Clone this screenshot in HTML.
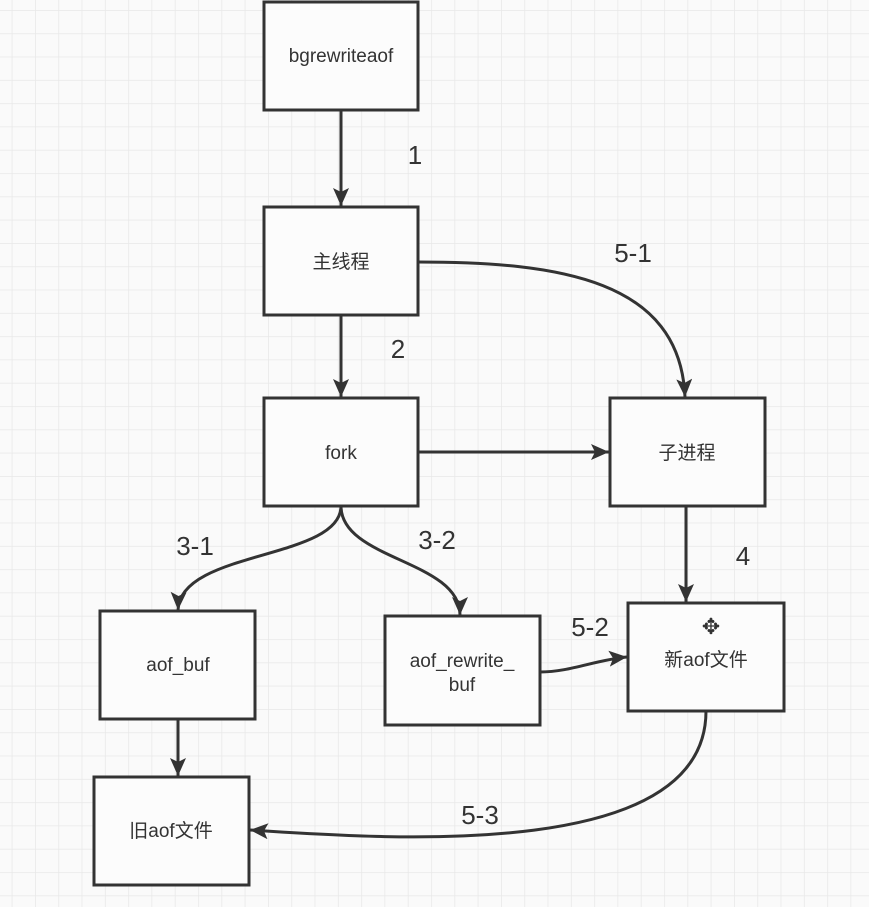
<!DOCTYPE html>
<html><head><meta charset="utf-8"><style>
html,body{margin:0;padding:0;background:#fafafa;}
svg{display:block;}
</style></head><body>
<svg width="869" height="907" xmlns="http://www.w3.org/2000/svg">
<defs>
<pattern id="g" x="11.7" y="10" width="23.3" height="23.3" patternUnits="userSpaceOnUse">
<path d="M0 0V23.3M0 0H23.3" stroke="#e8e8e8" stroke-width="1.5" fill="none"/>
</pattern>
<marker id="a" markerWidth="20" markerHeight="16" refX="18" refY="8" orient="auto" markerUnits="userSpaceOnUse" viewBox="0 0 20 16">
<path d="M0 0L18 8L0 16L4 8Z" fill="#333"/>
</marker>
</defs>
<rect width="869" height="907" fill="#fafafa"/>
<rect width="869" height="907" fill="url(#g)"/>
<g fill="#fcfcfc" stroke="#333" stroke-width="3">
<rect x="264" y="2" width="154" height="108"/>
<rect x="264" y="207" width="154" height="108"/>
<rect x="264" y="398" width="154" height="108"/>
<rect x="610" y="398" width="155" height="108"/>
<rect x="100" y="611" width="155" height="108"/>
<rect x="385" y="616" width="155" height="109"/>
<rect x="628" y="603" width="156" height="108"/>
<rect x="94" y="777" width="155" height="108"/>
</g>
<g stroke="#333" stroke-width="3" fill="none" marker-end="url(#a)">
<path d="M341 110V206"/>
<path d="M341 315V397"/>
<path d="M418 452H609"/>
<path d="M686 506V602"/>
<path d="M178 719V776"/>
<path d="M418 262C560 262 680 280 685 397"/>
<path d="M341 506C341 560 180 550 178 610"/>
<path d="M341 506C341 560 460 560 460 615"/>
<path d="M540 672C570 672 595 660 627 657"/>
<path d="M706 711C706 860 400 840 250 830"/>
</g>
<g font-family="'Liberation Sans','Noto Sans CJK SC',sans-serif" fill="#333" text-anchor="middle">
<g font-size="19">
<text x="341" y="62">bgrewriteaof</text>
<text x="341" y="268">主线程</text>
<text x="341" y="459">fork</text>
<text x="687" y="459">子进程</text>
<text x="178" y="671">aof_buf</text>
<text x="462" y="667">aof_rewrite_</text>
<text x="462" y="691">buf</text>
<text x="706" y="666">新aof文件</text>
<text x="171" y="837">旧aof文件</text>
</g>
<g font-size="26">
<text x="415" y="164">1</text>
<text x="633" y="262">5-1</text>
<text x="398" y="358">2</text>
<text x="195" y="555">3-1</text>
<text x="437" y="549">3-2</text>
<text x="743" y="565">4</text>
<text x="590" y="636">5-2</text>
<text x="480" y="824">5-3</text>
</g>
<text x="711" y="634" font-size="22">✥</text>
</g>
</svg>
</body></html>
